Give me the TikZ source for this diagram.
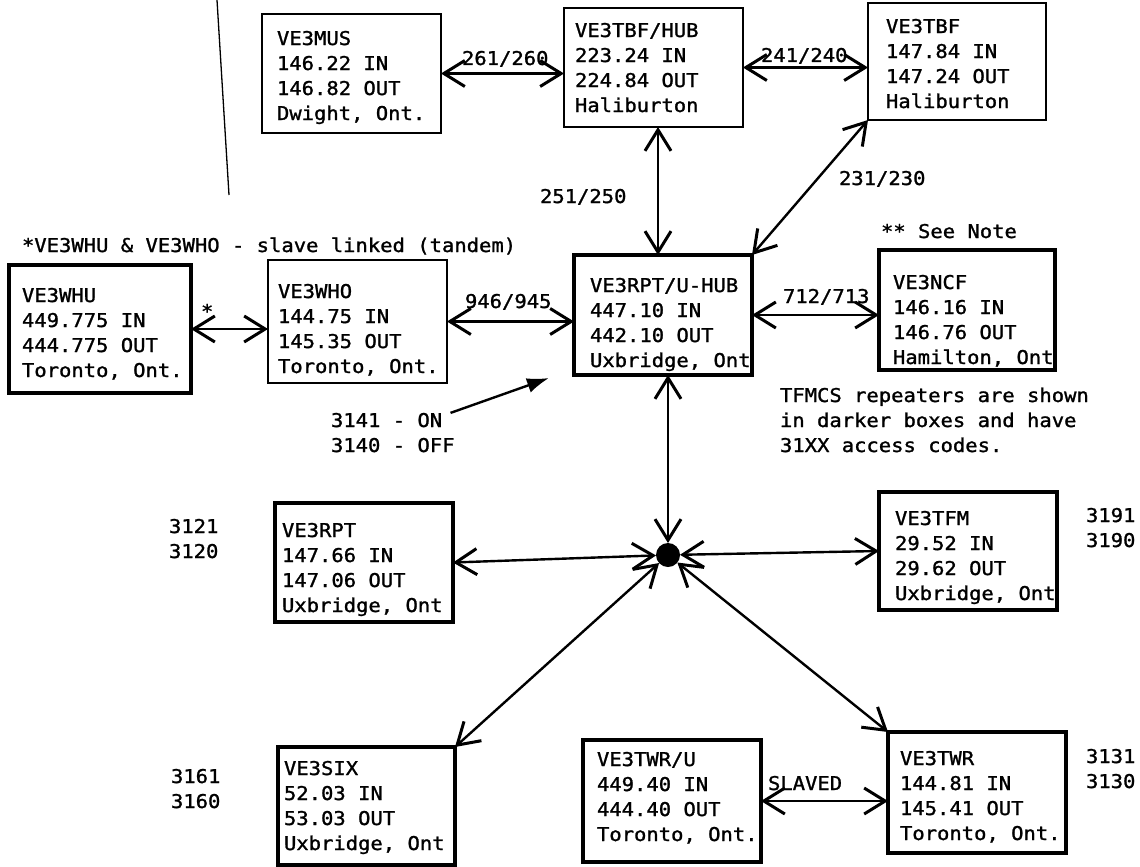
\documentclass[tikz,border=0pt]{standalone}
\usepackage{fontspec}
\usetikzlibrary{arrows.meta}
\newfontfamily\twfont[FakeStretch=1.08,FakeBold=1.3]{DejaVu Sans Mono}
\begin{document}
\begin{tikzpicture}[x=1pt,y=-1pt,
  every node/.style={inner sep=0pt, outer sep=0pt},
  >={Straight Barb[length=21pt,width=26pt,line width=3pt]},
  rbox/.style={draw, rectangle, line width=#1, anchor=north west},
  txt/.style={font=\twfont\fontsize{19}{25}\selectfont, align=left, anchor=base west},
  link/.style={<->, line width=2.4pt},
  pointer/.style={-{Latex[length=22pt,width=15pt]}, line width=2.4pt},
  margin/.style={line width=1.3pt}]
\useasboundingbox (0,0) rectangle (1140,867);
\fill[white] (0,0) rectangle (1140,867);

% margin line
\coordinate (m1) at (217,0);
\coordinate (m2) at (229,195);
\draw[margin] (m1) -- (m2);

% boxes (text nodes anchored at the baseline of their last line)
\node[rbox=1.8pt, minimum width=179pt, minimum height=119pt] (mus) at (262,14) {};
\node[txt] (mustx) at (277,120) {VE3MUS\\146.22 IN\\146.82 OUT\\Dwight, Ont.};

\node[rbox=2.4pt, minimum width=179pt, minimum height=119pt] (tbfhub) at (564,8) {};
\node[txt] (tbfhubtx) at (575,112) {VE3TBF/HUB\\223.24 IN\\224.84 OUT\\Haliburton};

\node[rbox=2.4pt, minimum width=178pt, minimum height=117pt] (tbf) at (868,3) {};
\node[txt] (tbftx) at (886,108) {VE3TBF\\147.84 IN\\147.24 OUT\\Haliburton};

\node[rbox=3.4pt, minimum width=182pt, minimum height=128pt] (whu) at (9,265) {};
\node[txt] (whutx) at (22,377) {VE3WHU\\449.775 IN\\444.775 OUT\\Toronto, Ont.};

\node[rbox=2pt, minimum width=179pt, minimum height=123pt] (who) at (268,260) {};
\node[txt] (whotx) at (278,373) {VE3WHO\\144.75 IN\\145.35 OUT\\Toronto, Ont.};

\node[rbox=4.6pt, minimum width=178pt, minimum height=120pt] (rpthub) at (574,255) {};
\node[txt] (rpthubtx) at (590,367) {VE3RPT/U-HUB\\447.10 IN\\442.10 OUT\\Uxbridge, Ont};

\node[rbox=4.6pt, minimum width=176pt, minimum height=120pt] (ncf) at (879,250) {};
\node[txt] (ncftx) at (893,364) {VE3NCF\\146.16 IN\\146.76 OUT\\Hamilton, Ont};

\node[rbox=4.6pt, minimum width=178pt, minimum height=119pt] (rpt) at (275,503) {};
\node[txt] (rpttx) at (282,612) {VE3RPT\\147.66 IN\\147.06 OUT\\Uxbridge, Ont};

\node[rbox=4.6pt, minimum width=177pt, minimum height=118pt] (six) at (278,747) {};
\node[txt] (sixtx) at (284,850) {VE3SIX\\52.03 IN\\53.03 OUT\\Uxbridge, Ont};

\node[rbox=4.6pt, minimum width=178pt, minimum height=118pt] (tfm) at (879,492) {};
\node[txt] (tfmtx) at (895,600) {VE3TFM\\29.52 IN\\29.62 OUT\\Uxbridge, Ont};

\node[rbox=4.6pt, minimum width=178pt, minimum height=122pt] (twru) at (583,740) {};
\node[txt] (twrutx) at (597,841) {VE3TWR/U\\449.40 IN\\444.40 OUT\\Toronto, Ont.};

\node[rbox=4.6pt, minimum width=178pt, minimum height=121pt] (twr) at (888,732) {};
\node[txt] (twrtx) at (900,840) {VE3TWR\\144.81 IN\\145.41 OUT\\Toronto, Ont.};

% hub
\node[circle, fill=black, minimum size=24pt] (hub) at (668,555) {};

% free labels
\node[txt] (note1) at (22,252) {*VE3WHU \& VE3WHO - slave linked (tandem)};
\node[txt] (note2) at (881,238) {** See Note};
\node[txt] (note3) at (780,452) {TFMCS repeaters are shown\\in darker boxes and have\\31XX access codes.};
\node[txt] (onoff) at (331,452) {3141 - ON\\3140 - OFF};
\node[txt] (c312) at (169,558) {3121\\3120};
\node[txt] (c316) at (171,808) {3161\\3160};
\node[txt] (c319) at (1086,547) {3191\\3190};
\node[txt] (c313) at (1086,788) {3131\\3130};

% link labels
\node[txt] (l261) at (462,65) {261/260};
\node[txt] (l241) at (761,62) {241/240};
\node[txt] (l251) at (540,203) {251/250};
\node[txt] (l231) at (839,185) {231/230};
\node[txt] (l946) at (465,308) {946/945};
\node[txt] (l712) at (783,303) {712/713};
\node[txt] (lstar) at (201,318) {*};
\node[txt] (lslv) at (768,790) {SLAVED};

% connectors
\coordinate (x251) at (658,0);
\draw[link] (mus.east) -- (mus.east -| tbfhub.west);
\draw[link] (tbfhub.east) -- (tbfhub.east -| tbf.west);
\draw[link] (tbfhub.south -| x251) -- (rpthub.north -| x251);
\draw[link] (tbf.south west) -- (rpthub.north east);
\draw[link] (whu.east) -- (whu.east -| who.west);
\draw[link] (who.east) -- (who.east -| rpthub.west);
\draw[link] (rpthub.east) -- (rpthub.east -| ncf.west);
\draw[link] (rpthub.south -| hub) -- (hub);
\draw[link] (hub) -- (rpt.east);
\draw[link] (hub) -- (tfm.west);
\draw[link] (hub) -- (six.north east);
\draw[link] (hub) -- (twr.north west);
\draw[link] (twru.east) -- (twru.east -| twr.west);

\coordinate (onend) at (549,378);
\draw[pointer] ([xshift=-4pt]onoff.north east) -- (onend);
\end{tikzpicture}
\end{document}
